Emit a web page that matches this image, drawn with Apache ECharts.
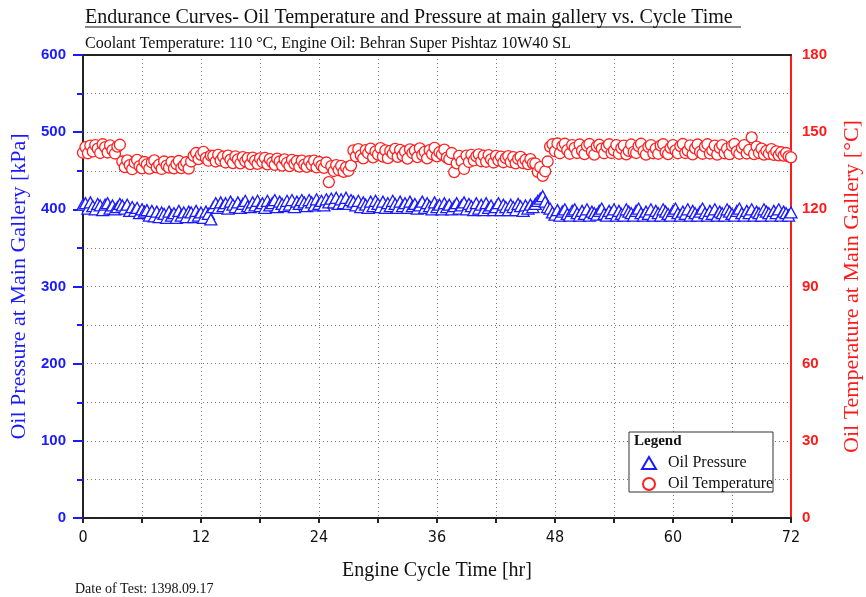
<!DOCTYPE html>
<html>
<head>
<meta charset="utf-8">
<script src="https://cdn.jsdelivr.net/npm/echarts@6/dist/echarts.min.js"></script>
<style>html,body{margin:0;padding:0;background:#fff;}#c{width:866px;height:597px;}</style>
</head>
<body>
<div id="c"></div>
<script>
// Sampling interval of the test log [hr]
const SAMPLE_STEP_HR = 0.25;
const xTicks = [0, 12, 24, 36, 48, 60, 72];

// Oil pressure at main gallery [kPa]
const oilPressure = [
406,408,401,409,404,400,407,405,399,406,408,401,405,400,403,407,
405,401,406,398,403,398,402,395,400,397,399,392,398,391,397,390,396,394,389,397,392,395,389,398,392,396,390,397,
396,390,398,392,396,389,397,394,387,
403,408,402,409,404,408,401,410,406,403,
409,402,407,411,404,403,409,405,411,404,
408,402,411,405,408,412,403,410,407,404,
411,406,412,403,410,407,412,409,404,412,
409,405,413,407,411,405,413,
409,
414,409,415,407,413,408,415,407,412,
410,405,411,403,409,406,402,410,404,411,
407,403,410,402,408,404,411,407,402,410,
404,408,402,410,404,407,401,405,410,402,
408,404,400,409,403,406,400,408,403,406,400,
404,408,401,405,409,400,407,404,399,408,
401,406,399,408,402,405,399,403,408,399,
406,403,399,406,403,399,407,404,398,405,401,406,403,
407,411,414,417,410,403,
401,396,393,399,392,397,400,394,392,398,
400,395,392,398,394,400,392,397,395,393,
398,401,394,392,398,395,400,392,398,394,
392,400,397,395,392,398,401,395,392,397,
394,400,392,398,395,392,400,397,394,392,
398,401,395,392,397,394,400,392,398,395,
392,397,401,395,392,398,394,400,392,397,
395,392,400,397,394,392,398,401,395,392,
398,395,400,392,397,395,392,400,397,395,
392,398,395,400,392,397,395,392,396
];

// Oil temperature at main gallery [°C]
const oilTemperature = [
142.0,144.2,141.8,144.8,142.5,145.0,143.6,141.9,145.3,144.2,142.1,144.9,143.0,141.7,144.4,145.1,
138.6,136.4,139.0,137.2,135.6,138.1,139.2,136.8,135.9,138.4,
137.5,135.8,138.2,139.0,136.3,137.4,135.7,138.6,137.0,136.2,
138.4,135.9,137.6,138.8,136.0,137.1,138.3,135.8,
138.6,140.8,141.9,139.5,141.2,142.3,140.0,138.9,140.9,
140.8,138.6,141.2,139.0,140.5,138.2,140.9,139.3,138.0,140.6,
139.4,137.9,140.3,138.7,139.9,137.6,140.1,138.9,137.7,139.8,
138.4,140.0,137.5,139.5,138.2,137.3,139.7,138.6,137.0,139.4,
138.1,136.8,139.2,137.7,138.8,136.6,138.9,137.4,136.5,138.7,
137.2,138.9,136.3,138.4,137.0,136.1,138.2,
130.6,
136.8,134.9,137.2,135.3,136.9,134.6,136.3,135.0,137.0,
142.9,140.6,143.4,141.0,139.8,143.0,141.8,143.6,140.2,142.5,
141.3,143.8,140.5,142.9,139.9,142.7,141.6,143.5,140.4,143.1,
141.0,142.4,139.7,143.3,141.9,142.8,140.3,143.7,141.2,142.3,
139.8,143.0,141.5,143.9,140.6,142.2,141.4,143.2,140.1,139.5,
141.9,
134.5,137.9,140.8,138.6,135.7,140.9,138.4,141.2,139.0,140.6,
141.4,138.7,140.9,138.5,141.1,139.4,138.2,140.8,139.0,140.5,
138.3,139.9,140.7,138.4,140.3,137.9,139.6,140.4,138.0,139.2,
137.6,139.5,137.9,
137.8,134.6,136.4,133.0,134.8,138.6,
144.4,145.3,142.6,145.6,141.8,144.6,145.5,143.0,141.6,145.0,
143.9,141.9,145.2,142.8,141.5,144.7,145.4,142.4,141.3,144.5,
145.1,143.6,141.8,144.3,145.3,141.9,142.9,145.0,141.6,143.8,
144.8,141.4,142.7,145.2,142.3,141.9,144.6,145.5,142.6,141.3,
144.3,145.0,141.8,143.6,141.6,144.8,145.3,142.2,141.5,143.9,
145.0,142.9,141.8,144.6,145.4,141.9,142.8,144.9,141.4,143.7,
145.2,142.3,141.6,144.4,145.3,141.7,142.9,144.8,141.3,143.9,
145.0,141.8,143.6,141.5,144.7,145.4,142.5,141.6,143.9,145.0,
141.7,143.1,148.0,141.5,144.4,141.9,143.6,141.3,142.7,141.6,
143.4,141.2,142.5,141.0,142.2,140.9,141.9,140.6,140.2
];

const pressurePts = oilPressure.map((v, i) => [i * SAMPLE_STEP_HR, v]);
const temperaturePts = oilTemperature.map((v, i) => [i * SAMPLE_STEP_HR, v]);

const serif = 'Liberation Serif';
const sans = 'Liberation Sans';
const dotted = { color: '#777', width: 1, type: [1, 3] };

const chart = echarts.init(document.getElementById('c'), null, { renderer: 'canvas' });
chart.setOption({
  backgroundColor: '#fff',
  animation: false,
  title: [
    { text: 'Endurance Curves- Oil Temperature and Pressure at main gallery vs. Cycle Time',
      left: 80, top: 3, textStyle: { fontFamily: serif, fontSize: 20, fontWeight: 'normal', color: '#111' } },
    { text: 'Coolant Temperature: 110 °C, Engine Oil: Behran Super Pishtaz 10W40 SL',
      left: 80, top: 31, textStyle: { fontFamily: serif, fontSize: 16, fontWeight: 'normal', color: '#111' } },
    { text: 'Date of Test: 1398.09.17',
      left: 70, top: 577, textStyle: { fontFamily: serif, fontSize: 14, fontWeight: 'normal', color: '#111' } }
  ],
  graphic: [
    { type: 'line', shape: { x1: 85, y1: 27, x2: 741, y2: 27 }, style: { stroke: '#111', lineWidth: 1 } },
    { type: 'rect', z: 3, shape: { x: 629, y: 432, width: 144, height: 60 }, style: { fill: '#fff', stroke: '#333', lineWidth: 1 } },
    { type: 'text', z: 4, x: 634, y: 434, style: { text: 'Legend', font: 'bold 15px "Liberation Serif"', fill: '#111' } }
  ],
  legend: {
    z: 5, padding: 0,
    orient: 'vertical', left: 641, top: 455,
    itemWidth: 14, itemHeight: 12, itemGap: 5,
    textStyle: { fontFamily: serif, fontSize: 16, color: '#111', padding: [0, 0, 0, 7] },
    data: [{ name: 'Oil Pressure', icon: 'triangle' }, { name: 'Oil Temperature', icon: 'circle' }]
  },
  grid: { left: 83, right: 75, top: 55, bottom: 79, containLabel: false, outerBoundsMode: 'none' },
  xAxis: [
    {
      type: 'value', min: 0, max: 72, interval: 12, position: 'bottom',
      name: 'Engine Cycle Time [hr]', nameLocation: 'middle', nameGap: 43,
      nameTextStyle: { fontFamily: serif, fontSize: 20, color: '#111' },
      axisLine: { show: true, onZero: false, lineStyle: { color: '#222', width: 2 } },
      axisTick: { show: true, length: 5, lineStyle: { color: '#222', width: 2 } },
      minorTick: { show: true, splitNumber: 2, length: 5, lineStyle: { color: '#222', width: 2 } },
      axisLabel: { fontFamily: '"Liberation Sans Narrow", "DejaVu Sans Condensed", sans-serif', fontSize: 16, color: '#111', margin: 12,
        formatter: v => xTicks.includes(v) ? String(v) : '' },
      splitLine: { show: true, lineStyle: dotted },
      minorSplitLine: { show: true, lineStyle: dotted }
    },
    {
      type: 'value', min: 0, max: 72, position: 'top',
      axisLine: { show: true, onZero: false, lineStyle: { color: '#222', width: 2 } },
      axisTick: { show: false }, axisLabel: { show: false }, splitLine: { show: false }
    }
  ],
  yAxis: [
    {
      type: 'value', min: 0, max: 600, interval: 100, position: 'left',
      name: 'Oil Pressure at Main Gallery [kPa]', nameLocation: 'middle', nameGap: 47, nameRotate: 90,
      nameTextStyle: { fontFamily: serif, fontSize: 22, color: '#1a1aff' },
      axisLine: { show: true, onZero: false, lineStyle: { color: '#222', width: 2 } },
      axisTick: { show: true, length: 10, lineStyle: { color: '#1a1aff', width: 2 } },
      minorTick: { show: true, splitNumber: 2, length: 6, lineStyle: { color: '#1a1aff', width: 2 } },
      axisLabel: { fontFamily: sans, fontWeight: 'bold', fontSize: 15, color: '#1a1aff', margin: 17 },
      splitLine: { show: true, lineStyle: dotted },
      minorSplitLine: { show: true, lineStyle: dotted }
    },
    {
      type: 'value', min: 0, max: 180, interval: 30, position: 'right',
      name: 'Oil Temperature at Main Gallery [°C]', nameLocation: 'middle', nameGap: 50, nameRotate: 90,
      nameTextStyle: { fontFamily: serif, fontSize: 22, color: '#ff1a1a' },
      axisLine: { show: true, onZero: false, lineStyle: { color: '#ff1a1a', width: 2 } },
      axisTick: { show: false },
      axisLabel: { fontFamily: sans, fontWeight: 'bold', fontSize: 15, color: '#ff1a1a', margin: 11 },
      splitLine: { show: false }
    }
  ],
  series: [
    {
      name: 'Oil Pressure', type: 'scatter', xAxisIndex: 0, yAxisIndex: 0,
      symbol: 'triangle', symbolSize: [12, 11], data: pressurePts,
      itemStyle: { color: '#fff', borderColor: '#1a1aff', borderWidth: 1.3, opacity: 1 }
    },
    {
      name: 'Oil Temperature', type: 'scatter', xAxisIndex: 0, yAxisIndex: 1,
      symbol: 'circle', symbolSize: 11, data: temperaturePts,
      itemStyle: { color: '#fff', borderColor: '#ff2020', borderWidth: 1.3, opacity: 1 }
    }
  ]
});
</script>
</body>
</html>
